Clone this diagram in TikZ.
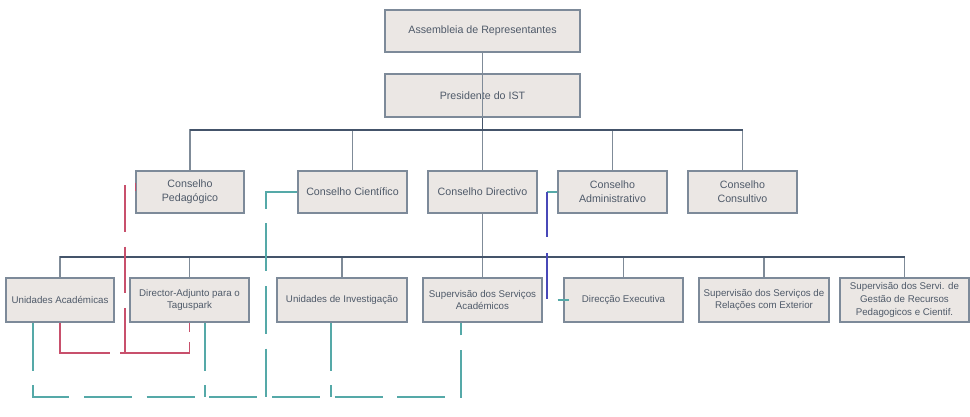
\documentclass[tikz,border=0pt]{standalone}
\usepackage{fontspec}
\setmainfont{Liberation Sans}
\definecolor{boxfill}{HTML}{EBE7E4}
\definecolor{boxline}{HTML}{7D8A99}
\definecolor{txt}{HTML}{4F5A69}
\definecolor{busline}{HTML}{44546A}
\definecolor{conline}{HTML}{7F8B98}
\definecolor{rosered}{HTML}{C8506C}
\definecolor{tealc}{HTML}{55A9A8}
\definecolor{indigoc}{HTML}{4848B8}
\tikzset{
  orgbox/.style={draw=boxline, fill=boxfill, line width=1pt, text=txt, align=center,
    inner sep=0pt, font=\fontsize{8}{10.5}\selectfont},
  lowbox/.style={orgbox, minimum height=33pt, font=\fontsize{7.3}{9.4}\selectfont},
  conn/.style={draw=conline, line width=0.8pt},
  bus/.style={draw=busline, line width=0.9pt},
  reddash/.style={draw=rosered, line width=1pt, dash pattern=on 35pt off 11pt},
  tealdash/.style={draw=tealc, line width=1pt, dash pattern=on 36pt off 11pt},
  bluedash/.style={draw=indigoc, line width=0.9pt, dash pattern=on 34pt off 12pt},
  tealsolid/.style={draw=tealc, line width=1pt},
}
\begin{document}
\begin{tikzpicture}[x=0.75pt,y=-0.75pt]
\useasboundingbox (0,0) rectangle (970,417);
% row 1
\node[orgbox, minimum width=146.25pt, minimum height=31.5pt] (A) at (482.5,31) {Assembleia de Representantes};
\node[orgbox, minimum width=146.25pt, minimum height=32.25pt] (P) at (482.5,95.5) {Presidente do IST};
% row 2
\node[orgbox, minimum width=81pt, minimum height=31.5pt] (CP) at (190,192) {Conselho\\Pedagógico};
\node[orgbox, minimum width=81.75pt, minimum height=31.5pt] (CC) at (352.5,192) {Conselho Científico};
\node[orgbox, minimum width=81.75pt, minimum height=31.5pt] (CD) at (482.5,192) {Conselho Directivo};
\node[orgbox, minimum width=81.75pt, minimum height=31.5pt] (CA) at (612.5,192) {Conselho\\Administrativo};
\node[orgbox, minimum width=81.75pt, minimum height=31.5pt] (CO) at (742.5,192) {Conselho\\Consultivo};
% row 3
\node[lowbox, minimum width=81pt] (UA) at (60,300) {Unidades Académicas};
\node[lowbox, minimum width=89.25pt] (DA) at (189.5,300) {Director-Adjunto para o\\Taguspark};
\node[lowbox, minimum width=97.5pt] (UI) at (342,300) {Unidades de Investigação};
\node[lowbox, minimum width=89.25pt] (SA) at (482.5,300) {Supervisão dos Serviços\\Académicos};
\node[lowbox, minimum width=89.25pt] (DE) at (623.5,300) {Direcção Executiva};
\node[lowbox, minimum width=97.5pt] (SR) at (764,300) {Supervisão dos Serviços de\\Relações com Exterior};
\node[lowbox, minimum width=96.75pt, font=\fontsize{7.3}{9.75}\selectfont] (SG) at (904.5,300) {Supervisão dos Servi. de\\Gestão de Recursos\\Pedagogicos e Cientif.};
% bus coordinates
\coordinate (bus1) at (0,130);
\coordinate (bus2) at (0,257);
\coordinate (low) at (0,353);
\coordinate (bot) at (0,397);
\coordinate (xr) at (125,0);
\coordinate (xt) at (266,0);
\coordinate (xa) at (547,0);
\coordinate (xua) at (33,0);
\coordinate (xda) at (205,0);
\coordinate (xui) at (331,0);
\coordinate (xsa) at (461,0);
% solid connectors
\draw[conn] (A.south) -- (P.south);
\foreach \n in {CP,CC,CD,CA,CO}{
  \draw[conn] (P.south|-bus1) -| (\n.north);
}
\draw[bus] (CP.north|-bus1) -- (CO.north|-bus1);
\draw[bus] (P.south) -- (P.south|-bus1);
\foreach \n in {UA,DA,UI,SA,DE,SR,SG}{
  \draw[conn] (CD.south|-bus2) -| (\n.north);
}
\draw[conn] (CD.south) -- (CD.south|-bus2);
\draw[bus] (UA.north|-bus2) -- (SG.north|-bus2);
\draw[bus, line width=1.2pt] (DA.north|-bus2) -- (SR.north|-bus2);
% red dashed
\draw[draw=rosered, line width=1pt] ([yshift=7pt]CP.west) -- ([yshift=1pt]CP.west);
\draw[reddash] ([yshift=5pt]CP.west-|xr) -- (xr|-low);
\draw[reddash, dash pattern=on 60pt off 8pt] (UA.south) -- (UA.south|-low) -- (DA.south|-low) -- (DA.south);
% teal dashed
\draw[tealdash] (CC.west) -- (CC.west-|xt) -- (xt|-bot);
\draw[tealdash] (UA.south-|xua) -- (xua|-bot) -- (xsa|-bot) -- (SA.south-|xsa);
\draw[tealdash] (DA.south-|xda) -- (xda|-bot);
\draw[tealdash] (UI.south-|xui) -- (xui|-bot);
% administrativo -> direccao executiva
\draw[tealsolid] (CA.west) -- (CA.west-|xa);
\draw[bluedash] (CA.west-|xa) -- (DE.west-|xa);
\draw[tealsolid] ([xshift=8pt]DE.west-|xa) -- ([xshift=4pt]DE.west);
\end{tikzpicture}
\end{document}
